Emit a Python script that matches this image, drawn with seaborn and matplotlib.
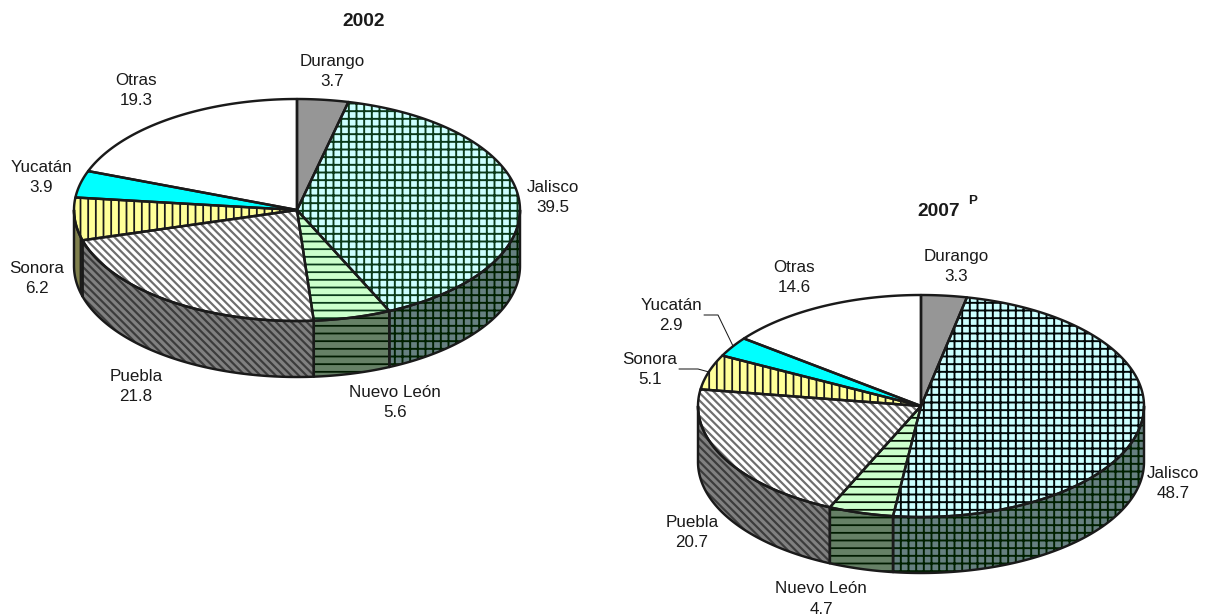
import matplotlib.pyplot as plt
import numpy as np
import seaborn as sns

regions = ["Durango", "Jalisco", "Nuevo León", "Puebla", "Sonora", "Yucatán", "Otras"]
values_2002 = [3.7, 39.5, 5.6, 21.8, 6.2, 3.9, 19.3]
values_2007 = [3.3, 48.7, 4.7, 20.7, 5.1, 2.9, 14.6]

faces = ["#969696", "#CCFFFF", "#CCFFCC", "#FFFFFF", "#FFFF99", "#00FFFF", "#FFFFFF"]
sides = ["#4B4B4B", "#668080", "#668066", "#808080", "#80804D", "#008080", "#808080"]
hatches = [None, "++", "--", "\\" * 4, "||", None, None]
hatch_lw = [0, 1.5, 1.4, 1.7, 1.4, 0, 0]
hatch_2002 = ["k", "#0A3A1A", "#0A3A1A", "#6E6E6E", "k", "k", "k"]
hatch_2007 = ["k", "#000808", "#001000", "#6E6E6E", "k", "k", "k"]
side_hatch = ["k", "#002000", "#001A00", "#3C3C3C", "k", "k", "k"]

DPI = 92
A, B, DEPTH = 223, 111, 56
LW = 1.9
FS = 13.3

sns.set_theme(style="white")
plt.rcParams["font.family"] = ["Liberation Sans", "DejaVu Sans"]


def arc(cx, cy, t0, t1, dy=0):
    t = np.radians(np.linspace(t0, t1, max(int(abs(t1 - t0)) * 2, 2)))
    return cx + A * np.sin(t), cy - B * np.cos(t) + dy


def hatched(ax, x, y, face, hatch, color, lw):
    plt.rcParams["hatch.linewidth"] = max(lw, 0.1)
    ax.fill(x, y, facecolor=face, edgecolor=color, hatch=hatch, linewidth=0, zorder=2)


def draw_pie(ax, cx, cy, values, hatch_colors):
    edges = np.cumsum([0] + list(values)) * 3.6
    # wall first, only the part of each slice facing the viewer
    for i in range(len(values)):
        t0, t1 = max(edges[i], 90), min(edges[i + 1], 270)
        if t1 <= t0:
            continue
        xa, ya = arc(cx, cy, t0, t1)
        xb, yb = arc(cx, cy, t1, t0, DEPTH)
        x, y = np.r_[xa, xb], np.r_[ya, yb]
        hatched(ax, x, y, sides[i], hatches[i], side_hatch[i], hatch_lw[i])
        ax.fill(x, y, facecolor="none", edgecolor="k", linewidth=LW, zorder=3, joinstyle="round")
    for i in range(len(values)):
        xa, ya = arc(cx, cy, edges[i], edges[i + 1])
        x, y = np.r_[cx, xa], np.r_[cy, ya]
        hatched(ax, x, y, faces[i], hatches[i], hatch_colors[i], hatch_lw[i])
        ax.fill(x, y, facecolor="none", edgecolor="k", linewidth=LW, zorder=4, joinstyle="round")


def label(ax, x, y, name, value):
    ax.text(x, y, f"{name}\n{value}", ha="center", va="center", fontsize=FS,
            linespacing=1.42, color="k", zorder=5)


fig, ax = plt.subplots(figsize=(1206 / DPI, 615 / DPI), dpi=DPI)
ax.set_position([0, 0, 1, 1])
ax.set_xlim(0, 1206)
ax.set_ylim(615, 0)
ax.axis("off")

draw_pie(ax, 297, 210, values_2002, hatch_2002)
draw_pie(ax, 921, 406, values_2007, hatch_2007)

pos_2002 = [(332, 71.5), (553, 197.5), (395, 402.5), (136, 386.5), (37, 278.5), (41, 177.5), (136, 90.5)]
pos_2007 = [(956, 266.5), (1173, 483.5), (821, 599), (692, 532.5), (650, 369.5), (671, 315.5), (794, 277.5)]
for name, v, p in zip(regions, values_2002, pos_2002):
    label(ax, p[0], p[1], name, v)
for name, v, p in zip(regions, values_2007, pos_2007):
    label(ax, p[0], p[1], name, v)

ax.text(364, 21.5, "2002", ha="center", va="center", fontsize=15, fontweight="bold", color="k")
ax.text(939, 212, "2007", ha="center", va="center", fontsize=15, fontweight="bold", color="k")
ax.text(973, 201, "P", ha="center", va="center", fontsize=10.5, fontweight="bold", color="k")

# leader lines of the two small slices in the right pie
ax.plot([704, 718, 733], [315, 315, 346], color="k", lw=0.8, zorder=5)
ax.plot([679, 698, 709], [369, 369, 372], color="k", lw=0.8, zorder=5)

fig.savefig("out.png", dpi=DPI)
